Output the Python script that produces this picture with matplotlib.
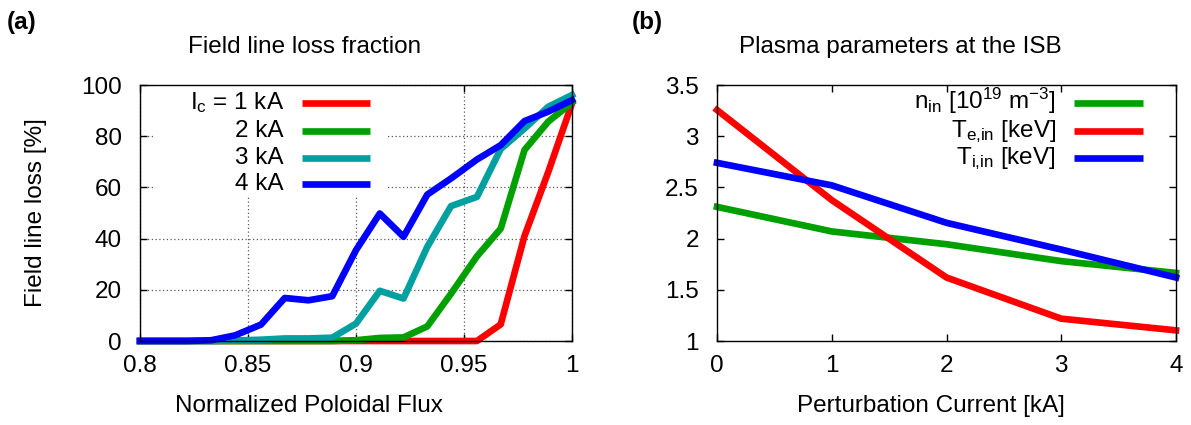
import matplotlib
matplotlib.use("Agg")
import matplotlib.pyplot as plt
from matplotlib.ticker import FormatStrFormatter, MultipleLocator
from matplotlib.patches import Rectangle

plt.rcParams['font.family'] = ['Liberation Sans', 'DejaVu Sans']
plt.rcParams['mathtext.fontset'] = 'custom'
plt.rcParams['mathtext.rm'] = 'Liberation Sans'
plt.rcParams['mathtext.default'] = 'regular'

# (a) field line loss vs normalized poloidal flux
psi = [0.8, 0.811, 0.822, 0.833, 0.844, 0.856, 0.867, 0.878, 0.889, 0.9,
       0.911, 0.922, 0.933, 0.944, 0.956, 0.967, 0.978, 0.989, 1.0]
loss_1kA = [0, 0, 0, 0, 0, 0, 0, 0, 0, 0, 0, 0, 0, 0, 0, 6.5, 41, 66, 92.8]
loss_2kA = [0, 0, 0, 0, 0, 0, 0, 0, 0, 0.3, 1.2, 1.4, 5.7, 18.5, 33.1, 43.9, 74.6, 85.7, 93.1]
loss_3kA = [0, 0, 0, 0, 0.2, 0.5, 1, 1, 1.3, 6.8, 19.6, 16.6, 36.8, 52.7, 56.3, 75, 83, 91.5, 96.1]
loss_4kA = [0, 0, 0, 0.3, 2.2, 6.4, 16.8, 15.9, 17.5, 35.5, 49.8, 40.7, 57.2, 63.5, 70.9, 76.5, 85.9, 89.6, 94.1]
loss_labels = ['I$_{c}$ = 1 kA', '2 kA', '3 kA', '4 kA']

# (b) plasma parameters at the ISB vs perturbation current
current = [0, 1, 2, 3, 4]
n_in = [2.31, 2.07, 1.945, 1.78, 1.665]
te_in = [3.256, 2.376, 1.62, 1.218, 1.104]
ti_in = [2.74, 2.52, 2.154, 1.893, 1.62]
isb_labels = ['n$_{in}$ [10$^{19}$ m$^{-3}$]', 'T$_{e{,}in}$ [keV]', 'T$_{i{,}in}$ [keV]']

red, green, cyan, blue = '#ff0000', '#00a000', '#00a0a0', '#0000ff'
lw = 4.8
fs = 17.5

fig = plt.figure(figsize=(11.91, 4.25), dpi=100)
ax1 = fig.add_axes([140/1191, 84/425, 432/1191, 256/425])
ax2 = fig.add_axes([717/1191, 84/425, 459/1191, 256/425])


def key(ax, labels, colors, x_text, x0, x1, rows):
    for lab, c, y in zip(labels, colors, rows):
        ax.text(x_text, y - 0.025, lab, transform=ax.transAxes, ha='right',
                va='baseline', fontsize=fs)
        ax.plot([x0, x1], [y, y], transform=ax.transAxes, color=c, lw=lw,
                solid_capstyle='butt', clip_on=False, zorder=4)


for ax in (ax1, ax2):
    ax.tick_params(direction='in', top=True, right=True, length=5, width=1,
                   labelsize=fs)
    for s in ax.spines.values():
        s.set_linewidth(1.0)
        s.set_zorder(6)

# ---- panel (a)
for y, c in zip([loss_1kA, loss_2kA, loss_3kA, loss_4kA], [red, green, cyan, blue]):
    ax1.plot(psi, y, color=c, lw=lw, clip_on=False, zorder=3)
ax1.set_xlim(0.8, 1.0)
ax1.set_ylim(0, 100)
ax1.xaxis.set_major_locator(MultipleLocator(0.05))
ax1.yaxis.set_major_locator(MultipleLocator(20))
ax1.xaxis.set_major_formatter(FormatStrFormatter('%g'))
ax1.tick_params(axis='y', pad=13)
ax1.tick_params(axis='x', pad=10)
ax1.set_axisbelow(True)
ax1.grid(True, ls=(0, (1, 2)), color='0.35', lw=0.9)
ax1.add_patch(Rectangle((0.035, 0.566), 0.537, 0.434, transform=ax1.transAxes,
                        facecolor='white', edgecolor='none', zorder=1))
key(ax1, loss_labels, [red, green, cyan, blue], 0.333, 0.375, 0.532,
    [0.930, 0.820, 0.715, 0.613])
ax1.set_title('Field line loss fraction', fontsize=fs, pad=23, x=0.382)
ax1.set_xlabel('Normalized Poloidal Flux', fontsize=fs)
ax1.xaxis.set_label_coords(0.392, -0.21)
ax1.set_ylabel('Field line loss [%]', fontsize=fs)
ax1.yaxis.set_label_coords(-0.215, 0.5)

# ---- panel (b)
for y, c in zip([n_in, te_in, ti_in], [green, red, blue]):
    ax2.plot(current, y, color=c, lw=lw, clip_on=False, zorder=3)
ax2.set_xlim(0, 4)
ax2.set_ylim(1, 3.5)
ax2.xaxis.set_major_locator(MultipleLocator(1))
ax2.yaxis.set_major_locator(MultipleLocator(0.5))
ax2.yaxis.set_major_formatter(FormatStrFormatter('%g'))
ax2.tick_params(axis='y', pad=13)
ax2.tick_params(axis='x', pad=10)
key(ax2, isb_labels, [green, red, blue], 0.7386, 0.778, 0.928,
    [0.930, 0.820, 0.715])
ax2.set_title('Plasma parameters at the ISB', fontsize=fs, pad=23, x=0.399)
ax2.set_xlabel('Perturbation Current [kA]', fontsize=fs)
ax2.xaxis.set_label_coords(0.466, -0.21)

fig.text(7/1191, 1 - 22/425, '(a)', fontsize=fs, fontweight='bold', va='center')
fig.text(632/1191, 1 - 22/425, '(b)', fontsize=fs, fontweight='bold', va='center')

fig.savefig('out.png', dpi=100)
